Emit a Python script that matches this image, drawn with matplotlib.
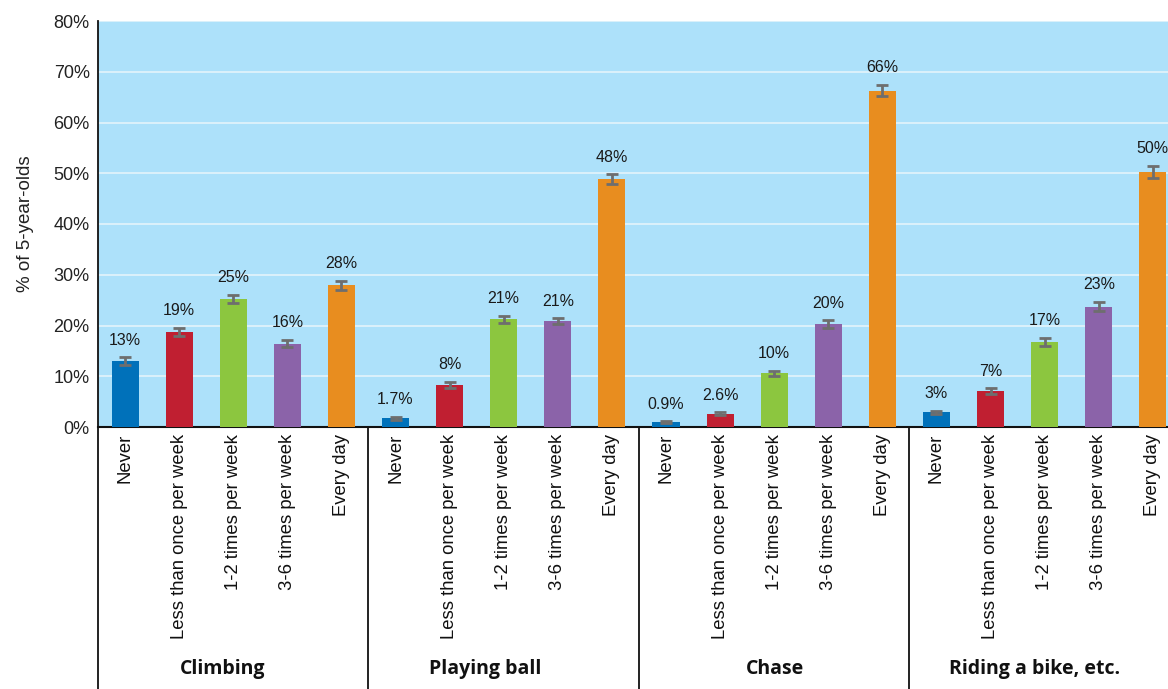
import matplotlib
matplotlib.use("Agg")
import matplotlib.pyplot as plt
import matplotlib.transforms as mtransforms

groups = ["Climbing", "Playing ball", "Chase", "Riding a bike, etc."]
frequencies = ["Never", "Less than once per week", "1-2 times per week",
               "3-6 times per week", "Every day"]
colors = ["#0071BA", "#C01F31", "#8CC63F", "#8B63A9", "#E88D1F"]

climbing = [13.0, 18.7, 25.2, 16.4, 27.9]
playing_ball = [1.7, 8.3, 21.2, 20.8, 48.8]
chase = [0.9, 2.6, 10.6, 20.3, 66.3]
bike = [2.9, 7.1, 16.8, 23.7, 50.3]

climbing_err = [0.7, 0.8, 0.8, 0.7, 0.9]
playing_ball_err = [0.3, 0.6, 0.7, 0.6, 1.0]
chase_err = [0.2, 0.3, 0.5, 0.7, 1.1]
bike_err = [0.3, 0.5, 0.8, 0.9, 1.2]

climbing_lbl = ["13%", "19%", "25%", "16%", "28%"]
playing_ball_lbl = ["1.7%", "8%", "21%", "21%", "48%"]
chase_lbl = ["0.9%", "2.6%", "10%", "20%", "66%"]
bike_lbl = ["3%", "7%", "17%", "23%", "50%"]

values = [climbing, playing_ball, chase, bike]
errors = [climbing_err, playing_ball_err, chase_err, bike_err]
labels = [climbing_lbl, playing_ball_lbl, chase_lbl, bike_lbl]

yticks = [0, 10, 20, 30, 40, 50, 60, 70, 80]
ytick_labels = ["0%", "10%", "20%", "30%", "40%", "50%", "60%", "70%", "80%"]

# horizontal centres of the group titles (in bar-slot units)
group_label_x = [2.31, 7.15, 12.52, 17.32]

plt.rcParams['font.family'] = ['Liberation Sans', 'DejaVu Sans']

fig = plt.figure(figsize=(11.68, 6.89), dpi=100)
ax = fig.add_axes([98 / 1168, 262 / 689, 1 - 98 / 1168, 406 / 689])
ax.set_facecolor("#ADE1FA")

positions = []
ticklabels = []
for g in range(len(groups)):
    for i in range(len(frequencies)):
        x = g * 5 + i + 0.5
        v = values[g][i]
        e = errors[g][i]
        ax.bar(x, v, width=0.5, color=colors[i], zorder=3)
        ax.errorbar(x, v, yerr=e, fmt="none", ecolor="#6E6E6E",
                    elinewidth=2, capsize=4.5, capthick=2, zorder=4)
        ax.annotate(labels[g][i], (x, v + e), xytext=(0, 7),
                    textcoords="offset points", ha="center", va="bottom",
                    fontsize=11.5, color="#1a1a1a", zorder=5)
        positions.append(x)
        ticklabels.append(frequencies[i])

ax.set_xlim(0, 19.78)
ax.set_ylim(0, 80)
ax.set_yticks(yticks)
ax.set_yticklabels(ytick_labels, fontsize=13, color="#222222")
ax.set_xticks(positions)
ax.set_xticklabels(ticklabels, rotation=90, fontsize=13.3, va="top",
                   color="#111111")
ax.tick_params(axis="both", length=0)
ax.tick_params(axis="x", pad=5)
ax.tick_params(axis="y", pad=6)
ax.yaxis.grid(True, color="#DCF1FB", linewidth=1.4, zorder=1)
ax.set_axisbelow(True)
for s in ["top", "right", "left"]:
    ax.spines[s].set_visible(False)
ax.spines["bottom"].set_linewidth(1.5)
ax.spines["bottom"].set_color("#111111")

ax.set_ylabel("% of 5-year-olds", fontsize=13.5, color="#222222", labelpad=14)

trans = mtransforms.blended_transform_factory(ax.transData, ax.transAxes)
for xb in [0, 5, 10, 15]:
    ax.plot([xb, xb], [1.0 if xb == 0 else 0, -0.66], transform=trans,
            color="#111111", linewidth=1.3, clip_on=False, zorder=6)

for name, gx in zip(groups, group_label_x):
    ax.text(gx, -0.597, name, transform=trans, ha="center",
            va="center", fontsize=14, fontweight="bold",
            family=["Open Sans", "DejaVu Sans"], color="#111111")

fig.savefig("out.png", dpi=100, facecolor="white")
